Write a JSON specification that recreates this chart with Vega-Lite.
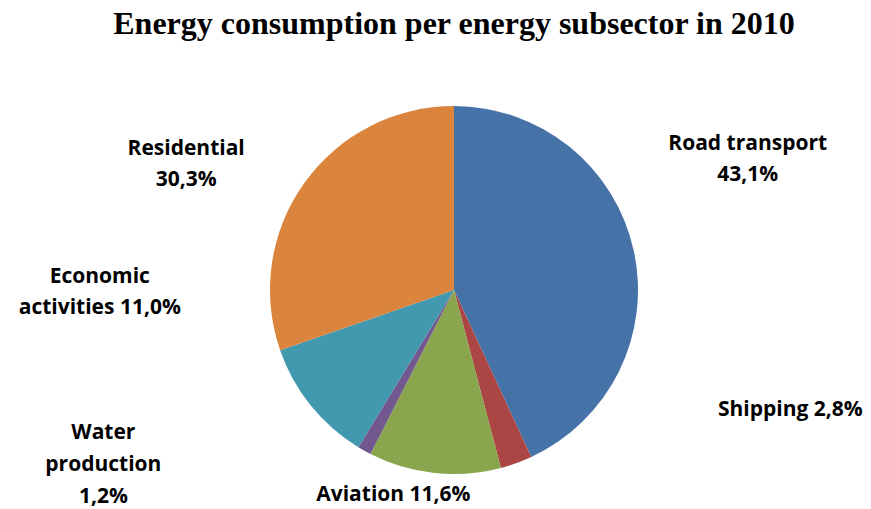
{
  "$schema": "https://vega.github.io/schema/vega-lite/v6.json",
  "width": 834,
  "height": 438,
  "autosize": "none",
  "padding": {"left": 37, "top": 71, "right": 0, "bottom": 0},
  "background": "white",
  "title": {
    "text": "Energy consumption per energy subsector in 2010",
    "font": "Liberation Serif",
    "fontSize": 32,
    "fontWeight": "bold",
    "color": "black",
    "anchor": "middle",
    "offset": 30
  },
  "data": {
    "values": [
      {"order": 1, "category": "Road transport", "value": 43.1, "label": "Road transport\n43,1%"},
      {"order": 2, "category": "Shipping", "value": 2.8, "label": "Shipping 2,8%"},
      {"order": 3, "category": "Aviation", "value": 11.6, "label": "Aviation 11,6%"},
      {"order": 4, "category": "Water production", "value": 1.2, "label": "Water\nproduction\n1,2%"},
      {"order": 5, "category": "Economic activities", "value": 11.0, "label": "Economic\nactivities 11,0%"},
      {"order": 6, "category": "Residential", "value": 30.3, "label": "Residential\n30,3%"}
    ]
  },
  "transform": [
    {"stack": "value", "groupby": [], "sort": [{"field": "order", "order": "ascending"}], "as": ["v0", "v1"]},
    {"calculate": "(datum.v0 + datum.v1) / 2", "as": "mid"}
  ],
  "encoding": {
    "theta": {"field": "v0", "type": "quantitative", "scale": {"domain": [0, 100]}, "stack": null}
  },
  "layer": [
    {
      "mark": {"type": "arc", "outerRadius": 184},
      "encoding": {
        "theta2": {"field": "v1"},
        "color": {
          "field": "category",
          "type": "nominal",
          "scale": {
            "domain": ["Road transport", "Shipping", "Aviation", "Water production", "Economic activities", "Residential"],
            "range": ["#4572A7", "#AA4643", "#89A54E", "#71588F", "#4198AF", "#DB843D"]
          },
          "legend": null
        }
      }
    },
    {
      "transform": [{"filter": "datum.category == 'Road transport'"}],
      "mark": {"type": "text", "font": "Open Sans", "fontWeight": "bold", "fontSize": 21, "lineHeight": 31, "lineBreak": "\n", "align": "center", "baseline": "middle", "color": "black", "dx": 114, "dy": -106},
      "encoding": {"theta": {"field": "mid", "type": "quantitative", "stack": null}, "radius": {"value": 184}, "text": {"field": "label"}}
    },
    {
      "transform": [{"filter": "datum.category == 'Shipping'"}],
      "mark": {"type": "text", "font": "Open Sans", "fontWeight": "bold", "fontSize": 21, "lineHeight": 31, "lineBreak": "\n", "align": "center", "baseline": "middle", "color": "black", "dx": 274, "dy": -53},
      "encoding": {"theta": {"field": "mid", "type": "quantitative", "stack": null}, "radius": {"value": 184}, "text": {"field": "label"}}
    },
    {
      "transform": [{"filter": "datum.category == 'Aviation'"}],
      "mark": {"type": "text", "font": "Open Sans", "fontWeight": "bold", "fontSize": 21, "lineHeight": 31, "lineBreak": "\n", "align": "center", "baseline": "middle", "color": "black", "dx": -41, "dy": 22},
      "encoding": {"theta": {"field": "mid", "type": "quantitative", "stack": null}, "radius": {"value": 184}, "text": {"field": "label"}}
    },
    {
      "transform": [{"filter": "datum.category == 'Water production'"}],
      "mark": {"type": "text", "font": "Open Sans", "fontWeight": "bold", "fontSize": 21, "lineHeight": 32, "lineBreak": "\n", "align": "center", "baseline": "middle", "color": "black", "dx": -261, "dy": -18},
      "encoding": {"theta": {"field": "mid", "type": "quantitative", "stack": null}, "radius": {"value": 184}, "text": {"field": "label"}}
    },
    {
      "transform": [{"filter": "datum.category == 'Economic activities'"}],
      "mark": {"type": "text", "font": "Open Sans", "fontWeight": "bold", "fontSize": 21, "lineHeight": 31, "lineBreak": "\n", "align": "center", "baseline": "middle", "color": "black", "dx": -211, "dy": -128},
      "encoding": {"theta": {"field": "mid", "type": "quantitative", "stack": null}, "radius": {"value": 184}, "text": {"field": "label"}}
    },
    {
      "transform": [{"filter": "datum.category == 'Residential'"}],
      "mark": {"type": "text", "font": "Open Sans", "fontWeight": "bold", "fontSize": 21, "lineHeight": 31, "lineBreak": "\n", "align": "center", "baseline": "middle", "color": "black", "dx": -118, "dy": -34},
      "encoding": {"theta": {"field": "mid", "type": "quantitative", "stack": null}, "radius": {"value": 184}, "text": {"field": "label"}}
    }
  ]
}
